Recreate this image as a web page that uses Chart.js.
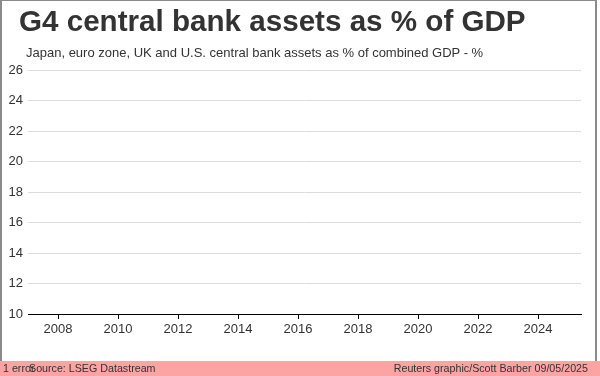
<!DOCTYPE html>
<html>
<head>
<meta charset="utf-8">
<script src="https://cdn.jsdelivr.net/npm/chart.js@4/dist/chart.umd.min.js"></script>
<style>
html,body{margin:0;padding:0;background:#fff;}
#wrap{position:relative;width:600px;height:376px;overflow:hidden;font-family:"Liberation Sans",Arial,sans-serif;background:#fff;}
#frame{position:absolute;left:0;top:0;width:597px;height:376px;border-left:2px solid #8a8a8a;border-top:1px solid #8a8a8a;border-right:2px solid #8a8a8a;box-sizing:border-box;}
#chart{position:absolute;left:0;top:0;}
#title{position:absolute;left:19px;top:6px;font-size:29.6px;line-height:29.6px;font-weight:bold;color:#333;white-space:nowrap;}
#subtitle{position:absolute;left:26px;top:46px;font-size:13px;line-height:13px;color:#333;white-space:nowrap;}
#footer{position:absolute;left:0;top:361px;width:600px;height:15px;background:#fca3a3;}
.ft{position:absolute;top:2px;font-size:10.7px;line-height:11px;color:#333;white-space:nowrap;}
#err{left:3px;}
#src{left:29px;}
#credit{right:12px;}
</style>
</head>
<body>
<div id="wrap">
  <canvas id="chart" width="600" height="376"></canvas>
  <div id="frame"></div>
  <div id="title">G4 central bank assets as % of GDP</div>
  <div id="subtitle">Japan, euro zone, UK and U.S. central bank assets as % of combined GDP - %</div>
  <div id="footer">
    <span class="ft" id="err">1 error</span>
    <span class="ft" id="src">Source: LSEG Datastream</span>
    <span class="ft" id="credit">Reuters graphic/Scott Barber 09/05/2025</span>
  </div>
</div>
<script>
// Data (the reference shows no plotted series — only the empty axes)
const tickYears = [2008, 2010, 2012, 2014, 2016, 2018, 2020, 2022, 2024];
const tickLabels = ["2008", "2010", "2012", "2014", "2016", "2018", "2020", "2022", "2024"];
const yTickValues = [10, 12, 14, 16, 18, 20, 22, 24, 26];
const seriesDates = [];
const g4AssetsPctGdp = [];

const FONT = '"Liberation Sans", Arial, sans-serif';
const points = seriesDates.map((d, i) => ({ x: d, y: g4AssetsPctGdp[i] }));

new Chart(document.getElementById('chart'), {
  type: 'line',
  data: {
    datasets: [{
      label: 'G4 central bank assets as % of GDP',
      data: points,
      borderColor: '#f07f21',
      borderWidth: 2,
      pointRadius: 0,
      fill: false
    }]
  },
  options: {
    responsive: false,
    animation: false,
    devicePixelRatio: 1,
    layout: { padding: { left: 0, right: 19, top: 70, bottom: 32 } },
    plugins: { legend: { display: false }, tooltip: { enabled: false }, title: { display: false } },
    scales: {
      x: {
        type: 'linear',
        min: 2007,
        max: 2025.433,
        afterBuildTicks: s => { s.ticks = tickYears.map(v => ({ value: v })); },
        afterFit: s => { s.height = 30; },
        grid: { drawOnChartArea: false, drawTicks: true, tickLength: 5, tickColor: '#000', tickWidth: 1 },
        border: { display: true, color: '#000', width: 1 },
        ticks: {
          padding: 3, color: '#333', font: { size: 13, family: FONT },
          maxRotation: 0, autoSkip: false,
          callback: (v) => { const i = tickYears.indexOf(v); return i >= 0 ? tickLabels[i] : ''; }
        }
      },
      y: {
        min: 10,
        max: 26,
        afterBuildTicks: s => { s.ticks = yTickValues.map(v => ({ value: v })); },
        afterFit: s => { s.width = 28; },
        grid: { color: '#dcdcdc', drawTicks: false, lineWidth: 1 },
        border: { display: false },
        ticks: { padding: 5, color: '#333', font: { size: 13, family: FONT } }
      }
    }
  }
});
</script>
</body>
</html>
